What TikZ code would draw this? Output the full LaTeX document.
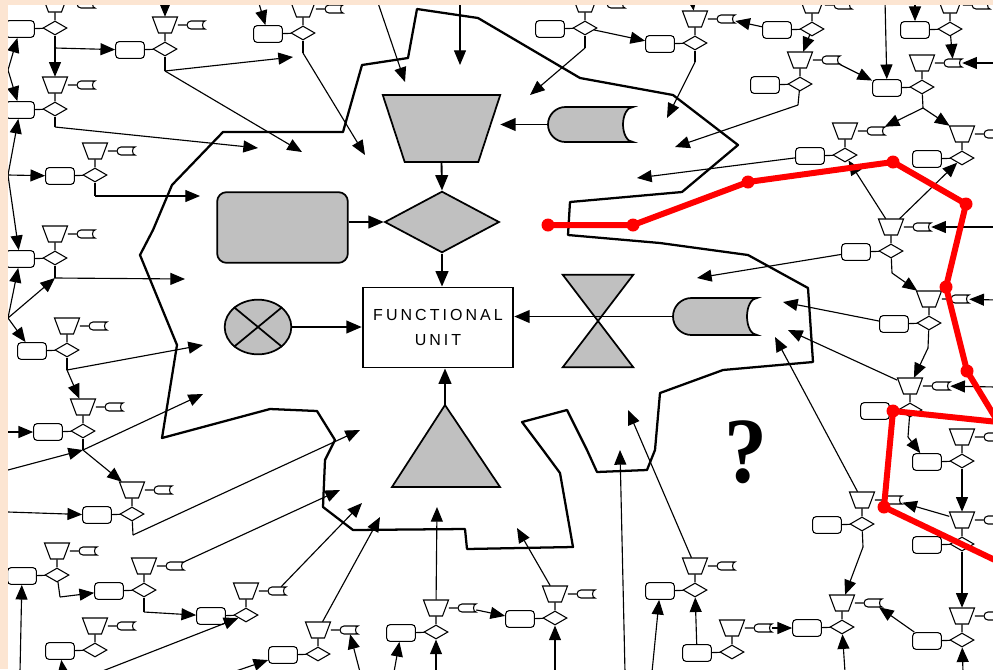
\documentclass[tikz,border=0pt]{standalone}
\usepackage{fontspec}
\usetikzlibrary{shapes.geometric}
\usetikzlibrary{arrows.meta}
\newfontfamily\fufont{Liberation Sans}[LetterSpace=19]
\newfontfamily\qfont{Liberation Serif}
\definecolor{peach}{RGB}{252,229,210}
\definecolor{shade}{RGB}{192,192,192}
\tikzset{ubox/.style={rectangle, rounded corners=2.5pt, draw, fill=white, line width=.8pt, minimum width=21.5pt, minimum height=12.5pt, inner sep=0pt}}
\tikzset{udia/.style={diamond, draw, fill=white, line width=.8pt, minimum width=18pt, minimum height=10.5pt, inner sep=0pt}}
\tikzset{utrap/.style={rectangle, minimum width=18.75pt, minimum height=12pt, inner sep=0pt}}
\tikzset{utape/.style={rectangle, minimum width=13.5pt, minimum height=6pt, inner sep=0pt}}
\tikzset{wire/.style={line width=.85pt}}
\tikzset{link/.style={line width=.85pt, -{Triangle[length=11pt,width=9pt]}}}
\tikzset{bigshape/.style={draw, fill=shade, line width=1.3pt}}
\tikzset{cline/.style={line width=1.4pt, -{Triangle[length=11.5pt,width=9.5pt]}}}

\begin{document}
\begin{tikzpicture}[x=.75pt,y=-.75pt]
  \useasboundingbox (0,0) rectangle (993,669);
  \fill[peach] (0,0) rectangle (993,669);
  \fill[white] (8,5) rectangle (993,669);
  \begin{scope}
  \clip (8,5) rectangle (993,669);
  \draw[line width=1.7pt, line join=round] (172,185) -- (223,132) -- (343,132) -- (362,65) -- (408,58) -- (417,9)
    -- (478,18) -- (580,78) -- (673,95) -- (738,145) -- (682,192) -- (570,202) -- (568,235) -- (660,243)
    -- (748,255) -- (808,288) -- (813,362) -- (723,370) -- (660,393) -- (655,450) -- (647,470) -- (597,472)
    -- (587,450) -- (567,410) -- (522,422) -- (543,450) -- (560,473) -- (573,547) -- (467,549) -- (465,529)
    -- (353,530) -- (323,507) -- (325,460) -- (335,440) -- (317,411) -- (270,409) -- (162,438) -- (177,345)
    -- (140,255) -- (153,230) -- cycle;

  \node[minimum width=87.75pt, minimum height=50pt, inner sep=0pt] (bigtrap) at (441.5,128.5) {};
  \filldraw[bigshape] (bigtrap.north west) -- (bigtrap.north east) -- ([xshift=-16.5pt]bigtrap.south east)
    -- ([xshift=16.5pt]bigtrap.south west) -- cycle;
  \node[bigshape, diamond, minimum width=86pt, minimum height=46pt, inner sep=0pt] (bigdia) at (442,222) {};
  \node[bigshape, rectangle, rounded corners=7pt, minimum width=98pt, minimum height=53pt] (bigbox) at (282.5,227.5) {};
  \node[bigshape, ellipse, minimum width=50pt, minimum height=41pt, inner sep=0pt] (cross) at (258,327) {};
  \draw[line width=1.3pt] (cross.north west) -- (cross.south east) (cross.north east) -- (cross.south west);
  \node[draw, line width=1.4pt, minimum width=113pt, minimum height=60pt, align=center,
    font=\fufont\fontsize{12}{19}\selectfont] (fu) at (438,327.5) {FUNCTIONAL\\UNIT};
  \node[minimum width=52.5pt, minimum height=69pt, inner sep=0pt] (hglass) at (598,321) {};
  \filldraw[bigshape] (hglass.north west) -- (hglass.north east) -- (hglass.south west) -- (hglass.south east) -- cycle;
  \node[minimum width=63.75pt, minimum height=26.25pt, inner sep=0pt] (gtape1) at (590.5,124.5) {};
  \filldraw[bigshape] (633,107) -- (565.5,107) arc(270:90:17.5) -- (633,142) arc(90:270:10 and 17.5) -- cycle;
  \node[minimum width=63pt, minimum height=27.75pt, inner sep=0pt] (gtape2) at (715,316.5) {};
  \filldraw[bigshape] (757,298) -- (691.5,298) arc(270:90:18.5) -- (757,335) arc(90:270:10 and 18.5) -- cycle;
  \coordinate (tri) at (445,405);
  \filldraw[bigshape] (tri) -- (392,487) -- (500,487) -- cycle;
  \node[font=\qfont\bfseries\fontsize{70}{70}\selectfont, inner sep=0pt] (qmark) at (746,452) {\scalebox{.92}[1]{?}};

  \draw[cline] (gtape1.west) -- (gtape1.west -| bigtrap.east);
  \draw[cline] (bigtrap.south) -- (bigdia.north);
  \draw[cline] (bigbox.east |- bigdia) -- (bigdia.west);
  \draw[cline] (bigdia.south) -- (bigdia.south |- fu.north);
  \draw[cline] (cross.east) -- (cross.east -| fu.west);
  \draw[cline] (gtape2.west) -- (gtape2.west -| fu.east);
  \draw[cline] (tri) -- (tri |- fu.south);

  \foreach \lab/\x/\y in {
    ua/55/28, ub/165/49, uc/55/109, ud/95/175, ue/55/258, uf/67/350, ug/83/431, uh/132/514,
    ui/57/575, uj/144/590, uk/246/615, ul/95/650, um/318/654, un/303/33, uo/436/632, up/555/618,
    uq/585/28, ur/695/43, us/812/29, ut/800/84, uu/922/87, uv/950/29, uw/845/155, ux/962/158,
    uy/891/251, uz/929/323, va/910/410, vb/962/461, vc/862/524, vd/962/544, ve/962/640,
    vf/842/627, vg/732/652, vh/695/590%
  } {
    \node[udia] (\lab-d) at (\x,\y) {};
    \node[ubox] (\lab-b) at (\x-35,\y+1) {};
    \node[utrap] (\lab-t) at (\x,\y-24) {};
    \draw[line width=.8pt, fill=white] (\x-12.5,\y-32) -- (\x+12.5,\y-32) -- (\x+6.5,\y-16) -- (\x-6.5,\y-16) -- cycle;
    \node[utape] (\lab-c) at (\x+31,\y-24) {};
    \draw[line width=.8pt, fill=white] (\x+40,\y-28) -- (\x+26,\y-28) arc(270:90:4) -- (\x+40,\y-20) arc(90:270:2.5 and 4) -- cycle;
    \draw[wire] (\lab-b) -- (\lab-d) (\lab-t) -- (\lab-d) (\lab-t) -- (\lab-c);
  }

  \foreach \lab/\x/\y in {
    jua/55/48, jub/165/71, juc/55/127, jud/95/196, jue/55/278, juf/67/370, jug/83/450,
    juh/133/535, jui/60/597, juj/144/612, jun/303/53, juq/585/48, jur/695/62, jut/798/105,
    juu/923/108, juy/892/273, juz/928/348, jva/908/437, jvc/863/547,
    l1/8/70, l2/8/175, l3/8/318, l4/8/432, l5/8/470, l6/8/512,
    e1/460/0, e2/377/0, e3/258/0, e4/165/0, e5/692/0, e6/885/0, e7/915/0,
    e8/996/63, e9/996/227, e10/996/300, e11/996/387,
    e12/625/672, e13/652/672, e14/845/672, e15/963/672, e16/555/672, e17/436/672, e18/394/672,
    e19/360/672, e20/233/672, e21/100/672, e22/63/672, e23/20/672,
    t1/293/57, t2/302/152, t3/258/148, t4/200/196, t5/185/279, t6/203/345, t7/203/394,
    t8/360/430, t9/340/490, t10/362/503, t11/380/517, t12/437/507, t13/517/528, t14/620/450,
    t15/628/410, t16/775/337, t17/788/330, t18/783/302, t19/697/278, t20/637/178, t21/675/147,
    t22/667/118, t23/530/95, t24/460/65, t25/405/82, t26/365/155%
  } {
    \coordinate (\lab) at (\x,\y);
  }

  \foreach \u/\v in {
    ua-d/jua, ub-d/jub, uc-d/juc, ud-d/jud, ue-d/jue, uf-d/juf, ug-d/jug, uh-d/juh, ui-d/jui,
    uj-d/juj, un-d/jun, uq-d/juq, ur-d/jur, ut-d/jut, uu-d/juu, uy-d/juy, uz-d/juz, va-d/jva,
    vc-d/jvc%
  }{
    \draw[wire] (\u) -- (\v);
  }

  \foreach \u/\v in {
    jua/ub-b, jua/uc-t, e4/ub-t, jub/t1, jub/t2, l1/ua-b, l1/uc-b, juc/t3, l2/uc-b, l2/ud-b,
    l2/ue-b, jud/t4, jue/t5, l3/ue-b, l3/jue, l3/uf-b, juf/t6, juf/ug-t, l4/ug-b, jug/t7,
    jug/uh-t, l5/jug, l6/uh-b, juh/t8, e23/ui-b, jui/uj-b, juj/uk-b, uj-c/t9, uk-c/t10,
    e21/uk-d, e22/ul-b, e20/um-b, e19/um-c, um-t/t11, e3/un-b, jun/t26, e17/uo-d, e18/uo-b,
    uo-c/up-b, uo-t/t12, e16/up-d, up-t/t13, e12/t14, vh-t/t15, e13/vh-b, vg-b/vh-d, vg-c/vf-b,
    e14/vf-d, e15/ve-d, ve-b/vf-c, vc-t/t16, jvc/vf-t, vd-t/vc-c, vb-d/vd-t, vd-d/ve-t,
    va-t/t17, e11/va-c, jva/vb-b, uz-b/t18, e10/uz-c, juz/va-t, uy-b/t19, e9/uy-c, juy/uz-t,
    uy-t/uw-d, uy-t/ux-d, uw-b/t20, e6/uu-b, e8/uu-c, uv-d/uu-c, juu/uw-c, juu/ux-t, e7/uv-b,
    ut-c/uu-b, jut/t21, us-d/ut-t, us-b/ur-c, e5/ur-t, juq/t23, uq-d/ur-b, jur/t22, e1/t24,
    e2/t25%
  }{
    \draw[link] (\u) -- (\v);
  }

  \foreach \lab/\x/\y in {
    r1/548/225, r2/633/225, r3/748/182, r4/893/162, r5/966/204, r6/946/287, r7/967/371,
    r8/998/422, r9/893/411, r10/884/507, r11/999/562%
  } {
    \coordinate (\lab) at (\x,\y);
  }
  \draw[red, line width=4.5pt, line join=round] (r1) -- (r2) -- (r3) -- (r4) -- (r5) -- (r6) -- (r7)
    -- (r8) -- (r9) -- (r10) -- (r11);
  \foreach \p in {r1,r2,r3,r4,r5,r6,r7,r9,r10} {
    \fill[red] (\p) circle (6.5);
  }
  \end{scope}
\end{tikzpicture}
\end{document}
